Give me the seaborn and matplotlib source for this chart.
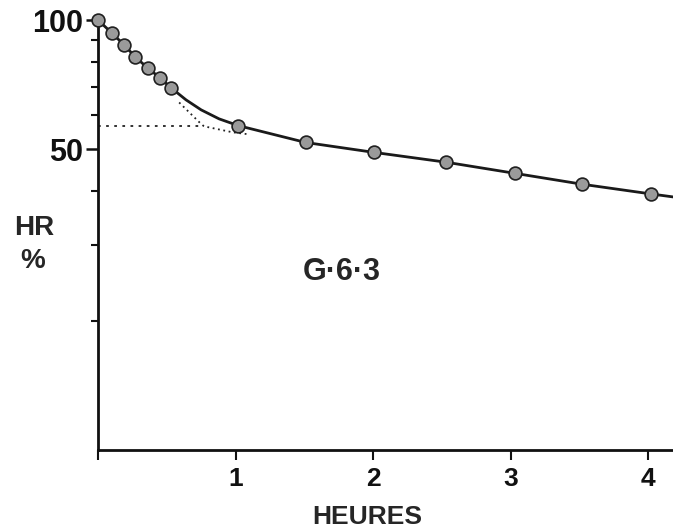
import matplotlib
matplotlib.use("Agg")
import matplotlib.pyplot as plt
import seaborn as sns
import pandas as pd
from matplotlib.ticker import FixedLocator, NullFormatter, FixedFormatter

# data
t_fast = [0.0, 0.10, 0.19, 0.27, 0.36, 0.45, 0.53]
hr_fast = [100, 93.3, 87.5, 82.1, 77.4, 73.4, 69.6]
t_slow = [1.02, 1.51, 2.01, 2.53, 3.03, 3.52, 4.02]
hr_slow = [56.8, 51.9, 49.2, 46.7, 44.0, 41.5, 39.4]
# extra points of the drawn solid curve (between/after the markers)
t_curve_extra = [0.64, 0.75, 0.88, 4.2]
hr_curve_extra = [65.2, 61.8, 58.9, 38.7]
# dotted construction lines
t_dot_h = [0.0, 0.77]
hr_dot_h = [56.6, 56.6]
t_dot_c = [0.59, 0.74, 0.77, 0.98, 1.10]
hr_dot_c = [64.3, 57.7, 56.6, 54.8, 54.2]

xticks = [0, 1, 2, 3, 4]
xticklabels = ["", "1", "2", "3", "4"]
ymajor = [50, 100]
ymajor_labels = ["50", "100"]
yminor = [20, 30, 40, 60, 70, 80, 90]

sns.set_style("ticks")
plt.rcParams["font.family"] = ["Liberation Sans", "DejaVu Sans"]
plt.rcParams["font.weight"] = "bold"

fig = plt.figure(figsize=(6.73, 5.32), dpi=100)
ax = fig.add_axes([98 / 673, 1 - 450 / 532, 1 - 98 / 673, (450 - 20) / 532])

pts = pd.DataFrame({"t": t_fast + t_slow, "hr": hr_fast + hr_slow})
curve = pd.DataFrame({"t": t_fast + t_curve_extra + t_slow,
                      "hr": hr_fast + hr_curve_extra + hr_slow}).sort_values("t")

ax.set_yscale("log")
sns.lineplot(data=curve, x="t", y="hr", ax=ax, color="#1a1a1a", lw=2.0,
             estimator=None, sort=True, zorder=2)
sns.lineplot(x=t_dot_h, y=hr_dot_h, ax=ax, color="#222222", lw=1.3,
             linestyle=(0, (1.5, 3)), estimator=None, zorder=1)
sns.lineplot(x=t_dot_c, y=hr_dot_c, ax=ax, color="#222222", lw=1.3,
             linestyle=(0, (1, 2)), estimator=None, sort=False, zorder=1)
sns.scatterplot(data=pts, x="t", y="hr", ax=ax, s=85, color="#9a9a9a",
                edgecolor="#202020", linewidth=1.2, zorder=3, clip_on=False)

ax.set_xlim(0, 4.18)
ax.set_ylim(10, 100)
ax.yaxis.set_major_locator(FixedLocator(ymajor))
ax.yaxis.set_major_formatter(FixedFormatter(ymajor_labels))
ax.yaxis.set_minor_locator(FixedLocator(yminor))
ax.yaxis.set_minor_formatter(NullFormatter())
ax.set_xticks(xticks)
ax.set_xticklabels(xticklabels)

for s in ["top", "right"]:
    ax.spines[s].set_visible(False)
for s in ["left", "bottom"]:
    ax.spines[s].set_linewidth(2.0)
    ax.spines[s].set_color("#111111")

ax.tick_params(axis="y", which="major", direction="out", length=9, width=1.8,
               labelsize=22, pad=2, colors="#111111")
ax.tick_params(axis="y", which="minor", direction="out", length=5, width=1.5,
               colors="#111111")
ax.tick_params(axis="x", which="major", direction="out", length=7, width=1.5,
               labelsize=19, pad=5, colors="#111111")
for lab in ax.get_xticklabels() + ax.get_yticklabels():
    lab.set_fontweight("bold")

ax.set_xlabel("")
ax.set_ylabel("")

fig.text(367 / 673, 1 - 517 / 532, "HEURES", fontsize=19, fontweight="bold",
         ha="center", va="center")
fig.text(34 / 673, 1 - 228 / 532, "HR", fontsize=20, fontweight="bold",
         ha="center", va="center")
fig.text(33 / 673, 1 - 261 / 532, "%", fontsize=20, fontweight="bold",
         ha="center", va="center")
ax.text(1.77, 26.0, "G·6·3", fontsize=22, fontweight="bold",
        ha="center", va="center")

fig.savefig("out.png", dpi=100)
